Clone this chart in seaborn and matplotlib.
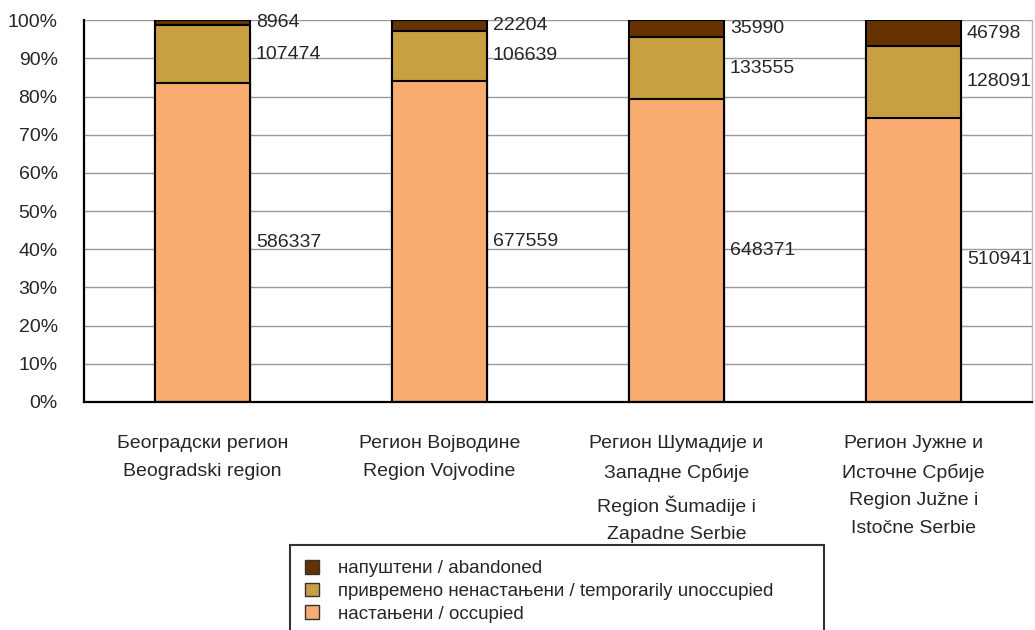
import numpy as np
import pandas as pd
import matplotlib
matplotlib.use("Agg")
import matplotlib.pyplot as plt
import seaborn as sns
from matplotlib.patches import Patch
from matplotlib.ticker import PercentFormatter, FixedLocator

regions = [
    "Београдски регион\nBeogradski region",
    "Регион Војводине\nRegion Vojvodine",
    "Регион Шумадије и\nЗападне Србије\nRegion Šumadije i\nZapadne Serbie",
    "Регион Јужне и\nИсточне Србије\nRegion Južne i\nIstočne Serbie",
]
occupied = [586337, 677559, 648371, 510941]
temporary = [107474, 106639, 133555, 128091]
abandoned = [8964, 22204, 35990, 46798]

series_labels = ["напуштени / abandoned",
                 "привремено ненастањени / temporarily unoccupied",
                 "настањени / occupied"]
colors = {"occupied": "#F9AC6F", "temporary": "#C9A041", "abandoned": "#663300"}

df = pd.DataFrame({"region": regions, "occupied": occupied,
                   "temporary": temporary, "abandoned": abandoned})
total = df[["occupied", "temporary", "abandoned"]].sum(axis=1)
df["c1"] = df["occupied"] / total
df["c2"] = (df["occupied"] + df["temporary"]) / total
df["c3"] = (df["occupied"] + df["temporary"] + df["abandoned"]) / total

sns.set_style("white")
plt.rcParams["font.family"] = ["Liberation Sans", "DejaVu Sans"]

fig = plt.figure(figsize=(10.35, 6.3), dpi=100)
ax = fig.add_axes([0.0812, 0.362, 0.916, 0.606])

# stacked bars: draw cumulative totals from the top down
for col, key in [("c3", "abandoned"), ("c2", "temporary"), ("c1", "occupied")]:
    sns.barplot(data=df, x="region", y=col, color=colors[key], width=0.4,
                edgecolor="black", linewidth=1.5, saturation=1, ax=ax, errorbar=None)

# value labels to the right of each segment
for i, row in df.iterrows():
    xr = i + 0.2 + 0.025
    ax.text(xr, row["c1"] / 2, f"{row['occupied']}", ha="left", va="center", fontsize=14)
    ax.text(xr, (row["c1"] + row["c2"]) / 2, f"{row['temporary']}", ha="left", va="center", fontsize=14)
    ax.text(xr, min((row["c2"] + row["c3"]) / 2, 0.995), f"{row['abandoned']}",
            ha="left", va="center", fontsize=14)

ax.set_ylim(0, 1)
ax.set_xlim(-0.5, 3.5)
ax.yaxis.set_major_locator(FixedLocator(np.arange(0, 1.01, 0.1)))
ax.yaxis.set_major_formatter(PercentFormatter(1.0, decimals=0))
ax.yaxis.grid(True, color="#999999", linewidth=1)
ax.set_axisbelow(True)
ax.set_xlabel("")
ax.set_ylabel("")

ax.tick_params(axis="y", direction="inout", length=10, width=1.3, labelsize=14, pad=14)
ax.tick_params(axis="x", which="major", length=0, labelsize=14, pad=24)
ax.set_xticks(np.arange(-0.5, 3.6, 1), minor=True)
ax.tick_params(axis="x", which="minor", length=7, width=1.3, direction="out")
for lab in ax.get_xticklabels():
    lab.set_linespacing(1.8)

for s in ["left", "bottom"]:
    ax.spines[s].set_color("black")
    ax.spines[s].set_linewidth(1.6)
ax.spines["top"].set_visible(False)
ax.spines["right"].set_color("#bbbbbb")
ax.spines["right"].set_linewidth(1)

handles = [Patch(facecolor=colors[k], edgecolor="#333333") for k in ["abandoned", "temporary", "occupied"]]
leg = fig.legend(handles, series_labels, loc="upper left",
                 bbox_to_anchor=(290 / 1035, 1 - 545 / 630, 534 / 1035, 0.0),
                 mode="expand", frameon=True, fancybox=False, fontsize=13.5,
                 handlelength=0.75, handleheight=0.75, handletextpad=1.0,
                 labelspacing=0.28, borderpad=0.8, borderaxespad=0)
leg.get_frame().set_edgecolor("black")
leg.get_frame().set_linewidth(1.5)

fig.savefig("out.png", dpi=100)
